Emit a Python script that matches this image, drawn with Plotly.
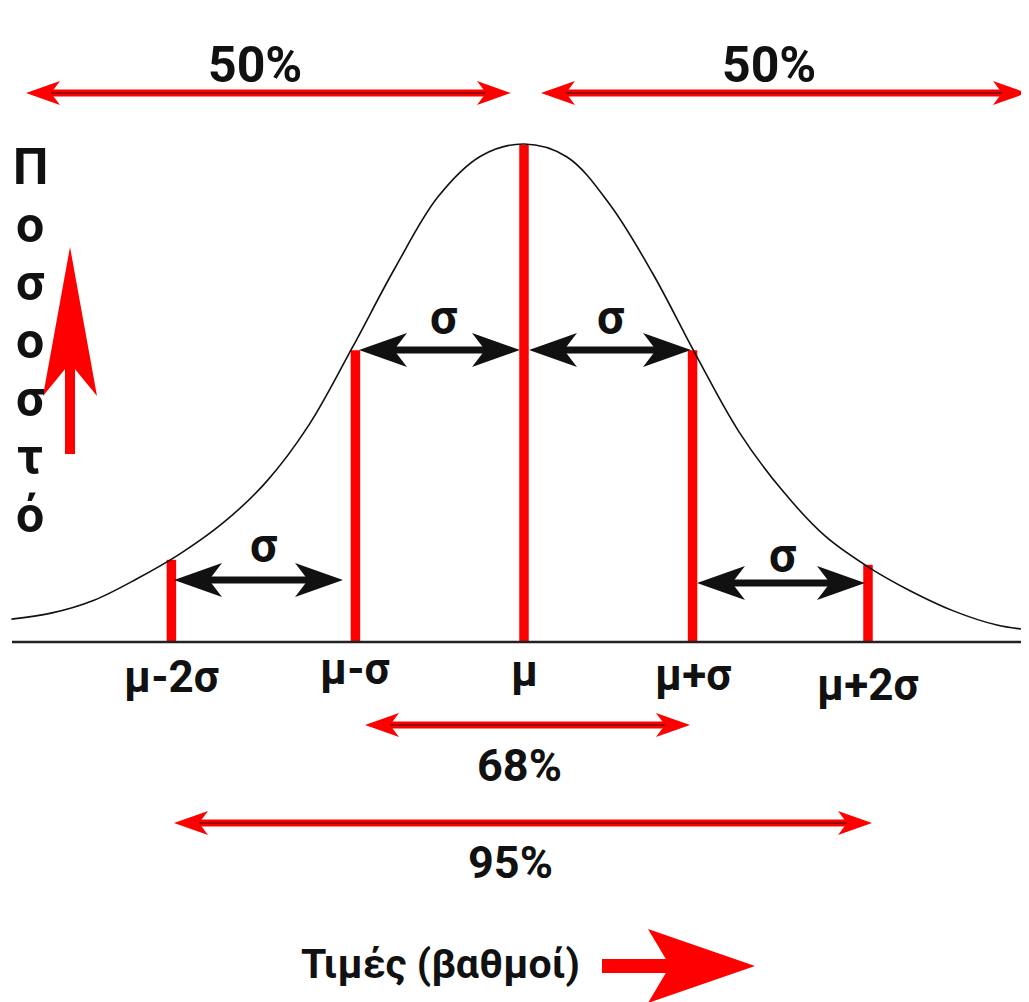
import plotly.graph_objects as go

# ── Data ─────────────────────────────────────────────────────────────────────
# x in units of sigma around the mean, y relative to the peak height
CURVE_X = [-2.98, -2.75, -2.5, -2.25, -2.0, -1.75, -1.5, -1.25, -1.0, -0.75, -0.5,
           -0.25, 0.0, 0.25, 0.5, 0.75, 1.0, 1.25, 1.5, 1.75, 2.0, 2.25, 2.5,
           2.75, 2.94]
CURVE_Y = [0.046, 0.058, 0.084, 0.127, 0.177, 0.239, 0.321, 0.436, 0.590, 0.751, 0.894,
           0.976, 1.0, 0.974, 0.878, 0.739, 0.576, 0.422, 0.305, 0.213, 0.151, 0.102, 0.062,
           0.034, 0.024]

MARK_X = [-2.05, -0.98, 0.0, 0.98, 2.0]
MARK_H = [0.165, 0.586, 0.998, 0.586, 0.155]
MARK_LABELS = ["μ-2σ", "μ-σ", "μ", "μ+σ", "μ+2σ"]

SHARE_LABELS = ["50%", "50%", "68%", "95%"]
SIGMA_LABEL = "σ"
Y_TITLE = "Ποσοστό"
X_TITLE = "Τιμές (βαθμοί)"

# ── Style ────────────────────────────────────────────────────────────────────
RED = "#fe0000"
DARK_RED = "#9a0a0a"
INK = "#111111"
FONT = "Roboto, Liberation Sans, sans-serif"

PAGE_W, PAGE_H = 1029, 1002
BODY = 8                          # default page margin round the plot div
PX_SIGMA, PX_UNIT = 172, 498      # pixels per sigma / per unit height
X0_PX, Y0_PX = 524, 642           # where the mean sits on the baseline (page px)


def dx(px):
    return (px - X0_PX) / PX_SIGMA


def dy(py):
    return (Y0_PX - py) / PX_UNIT


def head(tip_x, tip_y, direction, length, half, notch, color):
    """Barbed arrow head as a filled path (sizes in pixels)."""
    if direction == "up":
        back = tip_y + length
        mid = tip_y + length - notch
        pts = [(tip_x, tip_y), (tip_x - half, back), (tip_x, mid), (tip_x + half, back)]
    else:
        s = 1 if direction == "right" else -1
        back = tip_x - s * length
        mid = tip_x - s * (length - notch)
        pts = [(tip_x, tip_y), (back, tip_y - half), (mid, tip_y), (back, tip_y + half)]
    path = "M " + " L ".join(f"{dx(x):.4f},{dy(y):.4f}" for x, y in pts) + " Z"
    return dict(type="path", path=path, xref="x", yref="y", layer="above",
                fillcolor=color, line=dict(color=color, width=0))


def line(x0, y0, x1, y1, color, width):
    return dict(type="line", xref="x", yref="y", layer="above",
                x0=dx(x0), y0=dy(y0), x1=dx(x1), y1=dy(y1),
                line=dict(color=color, width=width))


def double_arrow(x0, x1, y, color, shaft, length, half, notch, core=None):
    shapes = [line(x0 + length * 0.5, y, x1 - length * 0.5, y, color, shaft)]
    if core:
        shapes.append(line(x0 + length * 0.6, y, x1 - length * 0.6, y, core, 2))
    shapes.append(head(x0, y, "left", length, half, notch, color))
    shapes.append(head(x1, y, "right", length, half, notch, color))
    return shapes


def label(text, px, baseline, size):
    # anchor by the middle of the text box, which sits ~0.4em above the baseline
    return dict(x=dx(px), y=dy(baseline - 0.4 * size), xref="x", yref="y",
                text=f"<b>{text}</b>", showarrow=False,
                xanchor="center", yanchor="middle",
                font=dict(family=FONT, size=size, color=INK))


fig = go.Figure()

# red sigma markers
fig.add_trace(go.Bar(
    x=MARK_X, y=MARK_H, width=9.5 / PX_SIGMA,
    marker=dict(color=RED, line=dict(width=0)),
    hoverinfo="skip", showlegend=False,
))

# density curve
fig.add_trace(go.Scatter(
    x=CURVE_X, y=CURVE_Y, mode="lines",
    line=dict(color=INK, width=1.6, shape="spline"),
    hoverinfo="skip", showlegend=False,
))

shapes = [line(12, Y0_PX, PAGE_W, Y0_PX, "#222222", 2.5)]

# red percentage arrows
for x0, x1, y in [(26, 511, 93), (541, 1027, 93), (365, 690, 725), (174, 872, 823)]:
    shapes += double_arrow(x0, x1, y, RED, 7, 34, 12, 9, core=DARK_RED)

# black sigma arrows
for x0, x1, y in [(359, 520, 350), (529, 691, 350), (174, 343, 580), (697, 865, 583)]:
    shapes += double_arrow(x0, x1, y, INK, 7, 48, 17, 13)

# big axis arrows
shapes.append(line(70, 454, 70, 360, RED, 10))
shapes.append(head(70, 247, "up", 149, 27, 33, RED))
shapes.append(line(602, 966, 680, 966, RED, 14))
shapes.append(head(755, 966, "right", 107, 37, 22, RED))

annotations = [
    label(SHARE_LABELS[0], 255, 85, 50),
    label(SHARE_LABELS[1], 769, 85, 50),
    label(SHARE_LABELS[2], 519, 783, 45),
    label(SHARE_LABELS[3], 510, 880, 45),
    label(X_TITLE, 440, 980, 41),
]
for px, base in [(443, 337), (610, 337), (263, 565), (782, 575)]:
    annotations.append(label(SIGMA_LABEL, px, base, 48))
for mx, text, base in zip(MARK_X, MARK_LABELS, [695, 687, 689, 693, 703]):
    annotations.append(label(text, X0_PX + mx * PX_SIGMA, base, 44))
for i, ch in enumerate(Y_TITLE):
    annotations.append(label(ch, 30, 187 + 58 * i, 50))

fig.update_layout(
    width=PAGE_W - BODY, height=PAGE_H - BODY,
    margin=dict(l=0, r=0, t=0, b=0),
    paper_bgcolor="white", plot_bgcolor="white",
    xaxis=dict(range=[dx(BODY), dx(PAGE_W)], visible=False, fixedrange=True),
    yaxis=dict(range=[dy(PAGE_H), dy(BODY)], visible=False, fixedrange=True),
    shapes=shapes, annotations=annotations,
    showlegend=False,
)

fig.write_html("out.html")
